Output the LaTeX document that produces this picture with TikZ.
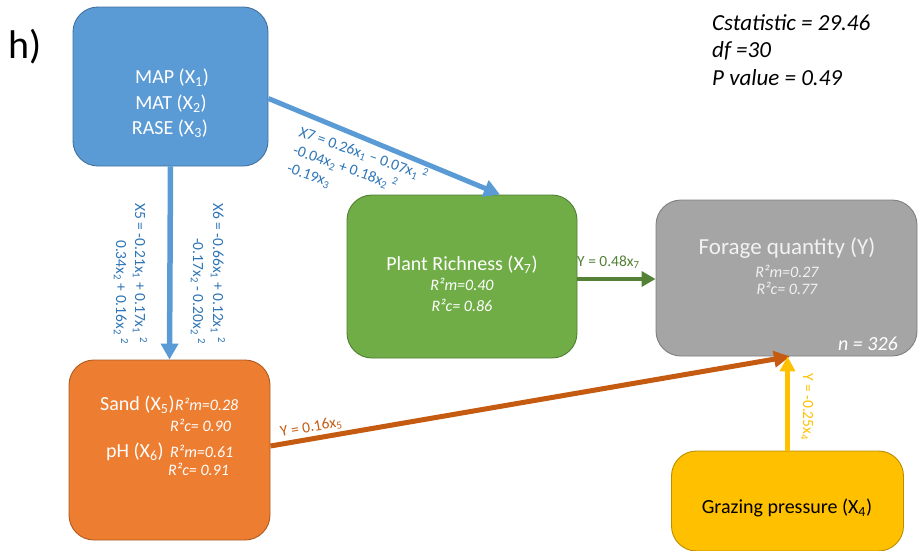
\documentclass[tikz,border=0pt]{standalone}
\usepackage{fontspec}
\setmainfont{Carlito}
\usetikzlibrary{arrows.meta}

\definecolor{blueFill}{HTML}{5B9BD5}
\definecolor{blueLine}{HTML}{41719C}
\definecolor{blueText}{HTML}{2E75B6}
\definecolor{greenFill}{HTML}{70AD47}
\definecolor{greenLine}{HTML}{507E32}
\definecolor{greenArrow}{HTML}{538135}
\definecolor{grayFill}{HTML}{A5A5A5}
\definecolor{grayLine}{HTML}{7F7F7F}
\definecolor{orangeFill}{HTML}{ED7D31}
\definecolor{orangeLine}{HTML}{AE5A21}
\definecolor{orangeArrow}{HTML}{C55A11}
\definecolor{yellowFill}{HTML}{FFC000}
\definecolor{yellowLine}{HTML}{BC8C00}

\newcommand{\setfs}[1]{\fontsize{#1}{#1}\selectfont}
\newcommand{\sbs}[1]{\textsubscript{#1}}
\newcommand{\sps}[1]{\textsuperscript{#1}}

\tikzset{
  box/.style={draw, rounded corners=25pt, line width=0.9pt, inner sep=0pt},
  txt/.style={inner sep=0pt, text=white},
  title/.style={txt, font=\setfs{20}},
  stat/.style={txt, font=\setfs{16}\itshape},
  lab/.style={inner sep=0pt, font=\setfs{15.5}},
  conn/.style={line width=#1},
  tipA/.style={-{Triangle[length=16pt,width=17pt]}},
}

\begin{document}
\begin{tikzpicture}[x=1pt,y=-1pt]
\useasboundingbox (0,0) rectangle (922,550);
\clip (0,0) rectangle (922,550);

% panel letter and fit statistics
\node[inner sep=0pt, anchor=base west, font=\setfs{40}] (panel) at (8,58) {h)};
\node[inner sep=0pt, anchor=base west, font=\setfs{23}\itshape] (cstat) at (712,30) {Cstatistic = 29.46};
\node[inner sep=0pt, anchor=base west, font=\setfs{23}\itshape] (df) at (712,57) {df =30};
\node[inner sep=0pt, anchor=base west, font=\setfs{23}\itshape] (pval) at (712,85) {P value = 0.49};

% boxes
\node[box, fill=blueFill, draw=blueLine, minimum width=195pt, minimum height=159pt] (blue) at (170.5,86.5) {};
\node[box, fill=greenFill, draw=greenLine, minimum width=230pt, minimum height=163pt] (green) at (462,276.5) {};
\node[box, fill=grayFill, draw=grayLine, minimum width=261pt, minimum height=156pt] (gray) at (786.5,278) {};
\node[box, fill=orangeFill, draw=orangeLine, minimum width=201pt, minimum height=180pt] (orange) at (169.5,450) {};
\node[box, fill=yellowFill, draw=yellowLine, minimum width=232pt, minimum height=100pt] (yellow) at (787.5,501) {};

% climate box text
\node[title, anchor=base] (map) at (172,83) {MAP (X\sbs{1})};
\node[title, anchor=base] (mat) at (171,109) {MAT (X\sbs{2})};
\node[title, anchor=base] (rase) at (170,134) {RASE (X\sbs{3})};

% plant richness text
\node[title, anchor=base] (prt) at (462,270) {Plant Richness (X\sbs{7})};
\node[stat, anchor=base] (prm) at (462,290) {R²m=0.40};
\node[stat, anchor=base] (prc) at (462,311) {R²c= 0.86};

% forage quantity text
\node[txt, text=white!95!black, anchor=base, font=\setfs{23}] (fqt) at (787,254) {Forage quantity (Y)};
\node[stat, text=white!95!black, anchor=base] (fqm) at (787,277) {R²m=0.27};
\node[stat, text=white!95!black, anchor=base] (fqc) at (787,294) {R²c= 0.77};
\node[txt, anchor=base east, font=\setfs{20}\itshape] (nobs) at (898,350) {n = 326};

% soil box text
\node[title, anchor=base west] (sand) at (100,410) {Sand (X\sbs{5})};
\node[stat, anchor=base west] (sandm) at (175,410) {R²m=0.28};
\node[stat, anchor=base west] (sandc) at (170,431) {R²c= 0.90};
\node[title, anchor=base west] (ph) at (106,457) {pH (X\sbs{6})};
\node[stat, anchor=base west] (phm) at (170,457) {R²m=0.61};
\node[stat, anchor=base west] (phc) at (168,475) {R²c= 0.91};

% grazing text
\node[title, text=black, anchor=base] (graz) at (787,513) {Grazing pressure (X\sbs{4})};

% connectors
\draw[conn=5.5pt, blueFill, tipA] (blue.south) -- (orange.north);
\draw[conn=5pt, blueFill, tipA] ([yshift=-12pt]blue.east) -- ([xshift=38pt]green.north);
\draw[conn=4.5pt, greenArrow, -{Triangle[length=14pt,width=15pt]}] ([yshift=-2.5pt]green.east) -- ([yshift=-2.5pt]green.east -| gray.west);
\draw[conn=5pt, orangeArrow, -{Triangle[length=16pt,width=16pt]}] ([yshift=4pt]orange.east) -- ([xshift=3.5pt]gray.south);
\draw[conn=4.5pt, yellowFill, -{Triangle[length=15pt,width=15pt]}] (yellow.north) -- (yellow.north |- gray.south);

% path equations
\node[lab, text=blueText, rotate=-90, anchor=base west] (x5a) at (135,203) {X5 = -0.21x\sbs{1} + 0.17x\sbs{1} \sps{2}};
\node[lab, text=blueText, rotate=-90, anchor=base west] (x5b) at (116,240) {0.34x\sbs{2} + 0.16x\sbs{2} \sps{2}};
\node[lab, text=blueText, rotate=-90, anchor=base west] (x6a) at (213,203) {X6 = -0.66x\sbs{1} + 0.12x\sbs{1} \sps{2}};
\node[lab, text=blueText, rotate=-90, anchor=base west] (x6b) at (193,238) {-0.17x\sbs{2} - 0.20x\sbs{2} \sps{2}};
\node[lab, text=blueText, rotate=-19.5, anchor=base west] (x7a) at (298,136) {X7 = 0.26x\sbs{1} -- 0.07x\sbs{1} \sps{2}};
\node[lab, text=blueText, rotate=-19.5, anchor=base west] (x7b) at (292,154) {-0.04x\sbs{2} + 0.18x\sbs{2} \sps{2}};
\node[lab, text=blueText, rotate=-19.5, anchor=base west] (x7c) at (286,172) {-0.19x\sbs{3}};
\node[lab, text=greenArrow, anchor=base west] (ylab7) at (577,266) {Y = 0.48x\sbs{7}};
\node[lab, text=orangeArrow, rotate=10, anchor=base west] (ylab5) at (281,437) {Y = 0.16x\sbs{5}};
\node[lab, text=yellowFill, rotate=-90, anchor=base west] (ylab4) at (803,373) {Y = -0.25x\sbs{4}};
\end{tikzpicture}
\end{document}
